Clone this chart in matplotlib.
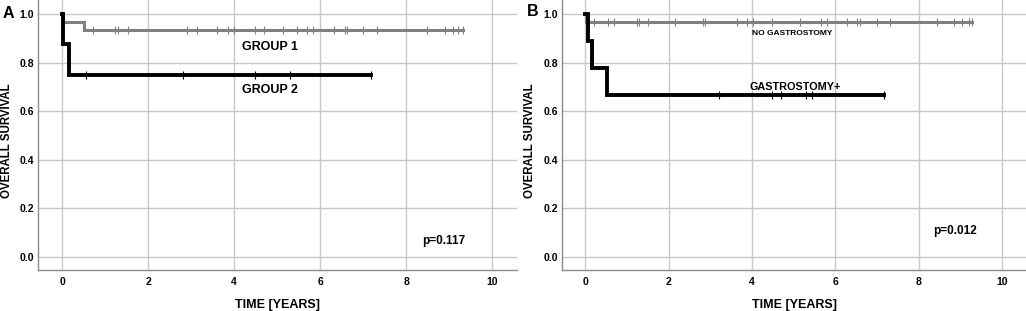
import numpy as np
import matplotlib
matplotlib.use("Agg")
import matplotlib.pyplot as plt

plt.rcParams['font.family'] = ['Liberation Sans', 'DejaVu Sans']
plt.rcParams['font.weight'] = 'bold'

# Panel A: step curves (time, survival) and censor times
a_g1_t = [0.0, 0.02, 0.51, 9.33]
a_g1_s = [1.0, 0.967, 0.933, 0.933]
a_g1_cens = [0.72, 1.23, 1.30, 1.53, 2.91, 3.14, 3.60, 3.86, 4.00, 4.49, 4.70,
             5.14, 5.47, 5.70, 5.84, 6.33, 6.58, 6.63, 7.00, 7.33, 8.49, 8.91,
             9.09, 9.21, 9.33]
a_g2_t = [0.0, 0.03, 0.15, 7.18]
a_g2_s = [1.0, 0.875, 0.75, 0.75]
a_g2_cens = [0.56, 2.82, 4.49, 5.30, 7.18]

# Panel B
b_no_t = [0.0, 0.01, 9.28]
b_no_s = [1.0, 0.966, 0.966]
b_no_cens = [0.22, 0.55, 0.70, 1.25, 1.29, 1.51, 2.16, 2.83, 2.88, 3.64, 3.88,
             4.03, 4.48, 5.16, 5.66, 5.80, 6.28, 6.52, 6.59, 7.00, 7.31, 8.44,
             8.85, 9.04, 9.21, 9.28]
b_gs_t = [0.0, 0.06, 0.16, 0.51, 7.17]
b_gs_s = [1.0, 0.889, 0.778, 0.667, 0.667]
b_gs_cens = [3.20, 4.48, 4.70, 5.30, 5.44, 7.17]

GREY = '#808080'
BLACK = '#000000'


def surv_at(times, surv, t):
    idx = np.searchsorted(times, t, side='right') - 1
    return np.asarray(surv)[idx]


def km(ax, times, surv, cens, color, lw):
    ax.step(times, surv, where='post', color=color, lw=lw, solid_joinstyle='miter', zorder=3)
    ax.plot(cens, surv_at(times, surv, cens), linestyle='none', marker='|',
            color=color, markersize=6, markeredgewidth=0.8, zorder=4)


def setup(ax, ylab_x):
    ax.set_xlim(-0.56, 10.58)
    ax.set_ylim(-0.055, 1.058)
    ax.set_xticks([0, 2, 4, 6, 8, 10])
    ax.set_yticks([0.0, 0.2, 0.4, 0.6, 0.8, 1.0])
    ax.set_yticklabels(['0.0', '0.2', '0.4', '0.6', '0.8', '1.0'])
    ax.grid(True, color='#c8c8c8', lw=1.0)
    ax.set_axisbelow(True)
    for s in ['top', 'right']:
        ax.spines[s].set_visible(False)
    for s in ['left', 'bottom']:
        ax.spines[s].set_color('#8c8c8c')
        ax.spines[s].set_linewidth(1.0)
    ax.tick_params(length=0, labelsize=7.5)
    ax.tick_params(axis='y', pad=3)
    ax.tick_params(axis='x', pad=5)
    for lab in ax.get_xticklabels() + ax.get_yticklabels():
        lab.set_fontweight('bold')
    ax.set_xlabel('TIME [YEARS]', fontsize=9, fontweight='bold', labelpad=9)
    ax.set_ylabel('OVERALL SURVIVAL', fontsize=8.3, fontweight='bold')
    ax.yaxis.set_label_coords(ylab_x, 0.48)


fig = plt.figure(figsize=(10.26, 3.11), dpi=100)
axA = fig.add_axes([38 / 1026, 41 / 311, (517 - 38) / 1026, 270 / 311])
axB = fig.add_axes([562 / 1026, 41 / 311, (1026 - 562) / 1026, 270 / 311])

setup(axA, (13 - 38) / 479)
km(axA, a_g1_t, a_g1_s, a_g1_cens, GREY, 2.2)
km(axA, a_g2_t, a_g2_s, a_g2_cens, BLACK, 2.8)
axA.text(4.18, 0.866, 'GROUP 1', fontsize=9, fontweight='bold', va='center', ha='left')
axA.text(4.18, 0.689, 'GROUP 2', fontsize=9, fontweight='bold', va='center', ha='left')
axA.text(8.37, 0.063, 'p=0.117', fontsize=8.5, fontweight='bold', va='center', ha='left')

setup(axB, (536 - 562) / 464)
km(axB, b_no_t, b_no_s, b_no_cens, GREY, 2.2)
km(axB, b_gs_t, b_gs_s, b_gs_cens, BLACK, 2.8)
axB.text(4.0, 0.921, 'NO GASTROSTOMY', fontsize=6, fontweight='bold', va='center', ha='left')
axB.text(3.94, 0.70, 'GASTROSTOMY+', fontsize=7.8, fontweight='bold', va='center', ha='left')
axB.text(8.35, 0.104, 'p=0.012', fontsize=8.5, fontweight='bold', va='center', ha='left')

fig.text(3 / 1026, 1 - 14 / 311, 'A', fontsize=11.5, fontweight='bold', va='center', ha='left')
fig.text(527 / 1026, 1 - 12 / 311, 'B', fontsize=11.5, fontweight='bold', va='center', ha='left')

fig.savefig('out.png', dpi=100)
